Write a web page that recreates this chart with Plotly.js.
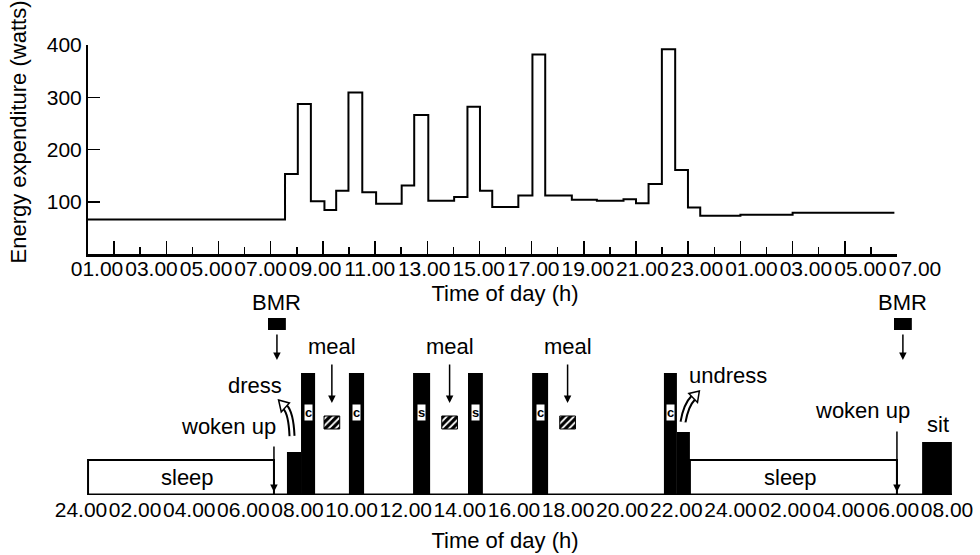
<!DOCTYPE html>
<html>
<head>
<meta charset="utf-8">
<script src="https://cdn.plot.ly/plotly-3.0.1.min.js"></script>
<style>html,body{margin:0;padding:0;background:#fff;}#chart{width:980px;height:555px;}</style>
</head>
<body>
<div id="chart"></div>
<script>
// ---- Top panel: energy expenditure (step series) ----
const hours = [0, 7.55, 8.04, 8.54, 9.06, 9.51, 9.98, 10.51, 11.04, 12.02, 12.5, 13.04, 14.03, 14.54, 15.02, 15.49, 16.49, 17.03, 17.52, 18.54, 19.5, 20.52, 21.0, 21.48, 21.99, 22.5, 22.99, 23.46, 25.0, 27.0, 30.9];
const watts = [66, 153, 287, 101, 84, 121, 309, 118, 96, 131, 266, 102, 109, 282, 121, 90, 112, 382, 112, 104, 102, 105, 97, 134, 392, 161, 89, 73, 75, 79, 79];
const topTickVals = [1, 3, 5, 7, 9, 11, 13, 15, 17, 19, 21, 23, 25, 27, 29, 31];
const topMinorVals = [2, 4, 6, 8, 10, 12, 14, 16, 18, 20, 22, 24, 26, 28, 30];
const topTickText = ['01.00','03.00','05.00','07.00','09.00','11.00','13.00','15.00','17.00','19.00','21.00','23.00','01.00','03.00','05.00','07.00'];
const yTickVals = [100, 200, 300, 400];

// ---- Bottom panel: activity diagram ----
const bottomTickVals = [0, 2, 4, 6, 8, 10, 12, 14, 16, 18, 20, 22, 24, 26, 28, 30, 32];
const bottomTickText = ['24.00','02.00','04.00','06.00','08.00','10.00','12.00','14.00','16.00','18.00','20.00','22.00','24.00','02.00','04.00','06.00','08.00'];
const activityStart = [8.13, 9.90, 12.27, 14.30, 16.67, 21.54];
const activityEnd   = [8.65, 10.46, 12.90, 14.85, 17.26, 22.02];
const activityLevel = [122, 122, 122, 122, 122, 122];
const activityCode  = ['c', 'c', 's', 's', 'c', 'c'];
const lowStart = [7.61, 22.02, 31.08];   // dress, undress, sit
const lowEnd   = [8.13, 22.50, 32.18];
const lowLevel = [43, 63, 53];
const sleepStart = [0.26, 22.50];
const sleepEnd   = [7.13, 30.15];
const sleepLevel = [35, 35];
const mealTime = [9.27, 13.62, 17.98];
const bmrTime = [7.24, 30.37];
const wokenTime = [7.13, 30.15];

const mid = (a, b) => a.map((v, i) => (v + b[i]) / 2);
const wid = (a, b) => a.map((v, i) => b[i] - v);

const FONT = 'Liberation Sans, Arial, sans-serif';

const traces = [
  {type: 'scatter', mode: 'lines', x: hours, y: watts, line: {shape: 'hv', color: '#000', width: 2}, xaxis: 'x', yaxis: 'y', hoverinfo: 'skip'},
  {type: 'scatter', mode: 'lines', x: [], y: [], xaxis: 'x3', yaxis: 'y', hoverinfo: 'skip'},
  {type: 'scatter', mode: 'lines', x: [], y: [], xaxis: 'x4', yaxis: 'y', hoverinfo: 'skip'},
  {type: 'bar', x: mid(sleepStart, sleepEnd), width: wid(sleepStart, sleepEnd), y: sleepLevel, base: 0,
   marker: {color: '#fff', line: {color: '#000', width: 2}}, xaxis: 'x2', yaxis: 'y2', hoverinfo: 'skip'},
  {type: 'bar', x: mid(activityStart, activityEnd), width: wid(activityStart, activityEnd), y: activityLevel, base: 0,
   marker: {color: '#000', line: {width: 0}}, xaxis: 'x2', yaxis: 'y2', hoverinfo: 'skip'},
  {type: 'bar', x: mid(lowStart, lowEnd), width: wid(lowStart, lowEnd), y: lowLevel, base: 0,
   marker: {color: '#000', line: {width: 0}}, xaxis: 'x2', yaxis: 'y2', hoverinfo: 'skip'},
  {type: 'bar', x: mealTime, width: mealTime.map(() => 0.58), y: mealTime.map(() => 13), base: mealTime.map(() => 66),
   marker: {color: '#000', line: {color: '#000', width: 1},
            pattern: {shape: '/', fillmode: 'replace', bgcolor: '#000', fgcolor: '#fff', size: 5, solidity: 0.35}},
   xaxis: 'x2', yaxis: 'y2', hoverinfo: 'skip'},
  {type: 'bar', x: bmrTime, width: bmrTime.map(() => 0.66), y: bmrTime.map(() => 12), base: bmrTime.map(() => 165),
   marker: {color: '#000', line: {width: 0}}, xaxis: 'x2', yaxis: 'y2', hoverinfo: 'skip'}
];

const ann = [];
const txt = (x, y, t, extra) => Object.assign({x: x, y: y, xref: 'x2', yref: 'y2', text: t, showarrow: false,
  font: {family: FONT, size: 22, color: '#000'}}, extra || {});
const arrow = (x, y0, y1) => ({x: x, y: y1, ax: x, ay: y0, xref: 'x2', yref: 'y2', axref: 'x2', ayref: 'y2',
  text: '', showarrow: true, arrowhead: 2, arrowsize: 1, arrowwidth: 1.5, arrowcolor: '#000', standoff: 0, startstandoff: 0});

bmrTime.forEach(t => { ann.push(txt(t, 192, 'BMR')); ann.push(arrow(t, 162, 135)); });
mealTime.forEach(t => { ann.push(txt(t, 148, 'meal')); ann.push(arrow(t, 132, 92)); });
ann.push(arrow(wokenTime[0], 50, 3));
ann.push(arrow(wokenTime[1], 65, 3));
ann.push(txt(5.45, 68, 'woken up'));
ann.push(txt(28.86, 84, 'woken up'));
ann.push(txt(6.43, 109, 'dress'));
ann.push(txt(23.9, 119, 'undress'));
ann.push(txt(31.67, 70, 'sit'));
ann.push(txt(3.95, 18, 'sleep'));
ann.push(txt(26.2, 18, 'sleep'));
mid(activityStart, activityEnd).forEach((c, i) => {
  ann.push(txt(c, 82, '<b>' + activityCode[i] + '</b>', {bgcolor: '#fff', borderpad: 0, font: {family: FONT, size: 13, color: '#000'}}));
});
// y-axis title of the top panel
ann.push({xref: 'paper', yref: 'paper', x: -0.035, xanchor: 'center', y: 0.806, yanchor: 'middle', textangle: -90,
  text: 'Energy expenditure (watts)', showarrow: false, font: {family: FONT, size: 22, color: '#000'}});

// curved hollow arrows (dress / undress)
const dressBody = 'M 7.797,59 Q 7.760,82 7.538,88';
const dressHead = 'M 7.300,95 L 7.700,92 L 7.400,83 Z';
const undressBody = 'M 22.245,73 Q 22.356,90 22.615,97';
const undressHead = 'M 22.850,104 L 22.780,92.5 L 22.460,101.5 Z';
const shp = (p, w, c, fill) => ({type: 'path', path: p, xref: 'x2', yref: 'y2', line: {color: c, width: w}, fillcolor: fill || 'rgba(0,0,0,0)', layer: 'above'});

const shapes = [
  {type: 'line', xref: 'x2', yref: 'y2', x0: sleepStart[0], x1: lowEnd[2], y0: 0, y1: 0, line: {color: '#000', width: 3}, layer: 'above'},
  shp(dressBody, 7, '#000'), shp(dressBody, 3, '#fff'), shp(dressHead, 1.5, '#000', '#fff'),
  shp(undressBody, 7, '#000'), shp(undressBody, 3, '#fff'), shp(undressHead, 1.5, '#000', '#fff')
];

const layout = {
  width: 980, height: 555,
  margin: {l: 50, r: 20, t: 45, b: 60},
  paper_bgcolor: '#fff', plot_bgcolor: 'rgba(0,0,0,0)',
  font: {family: FONT, size: 21, color: '#000'},
  showlegend: false, hovermode: false, barmode: 'overlay',
  xaxis: {domain: [0.041758, 0.930769], range: [0, 31], anchor: 'y',
          showline: true, linecolor: '#000', linewidth: 3, showgrid: false, zeroline: false,
          ticks: 'inside', tickvals: topTickVals, ticklen: 13, tickwidth: 1.5, tickcolor: '#000', showticklabels: false},
  xaxis4: {overlaying: 'x', anchor: 'y', range: [0, 31], side: 'bottom',
           showline: false, showgrid: false, zeroline: false,
           ticks: 'inside', tickvals: topMinorVals, ticklen: 7, tickwidth: 1.5, tickcolor: '#000', showticklabels: false},
  xaxis3: {domain: [0, 1], range: [-0.7237, 32.650], anchor: 'free', position: 0.53556,
           showline: false, showgrid: false, zeroline: false, ticks: '', tickangle: 0,
           tickvals: topTickVals, ticktext: topTickText, tickfont: {size: 21},
           title: {text: 'Time of day (h)', font: {size: 22}, standoff: 6}},
  yaxis: {domain: [0.53556, 1], range: [0, 400], anchor: 'x',
          showline: true, linecolor: '#000', linewidth: 2, showgrid: false, zeroline: false,
          ticks: 'inside', tickvals: yTickVals, ticklen: 12, tickwidth: 1.5, tickcolor: '#000',
          tickfont: {size: 21}},
  xaxis2: {domain: [0, 1], range: [-1.1455, 32.48], anchor: 'y2',
           showline: false, showgrid: false, zeroline: false, ticks: '', tickangle: 0,
           tickvals: bottomTickVals, ticktext: bottomTickText, tickfont: {size: 21},
           title: {text: 'Time of day (h)', font: {size: 22}, standoff: 12}},
  yaxis2: {domain: [0, 0.4556], range: [0, 205], visible: false, anchor: 'x2'},
  annotations: ann,
  shapes: shapes
};

Plotly.newPlot('chart', traces, layout, {displayModeBar: false, staticPlot: true});
</script>
</body>
</html>
